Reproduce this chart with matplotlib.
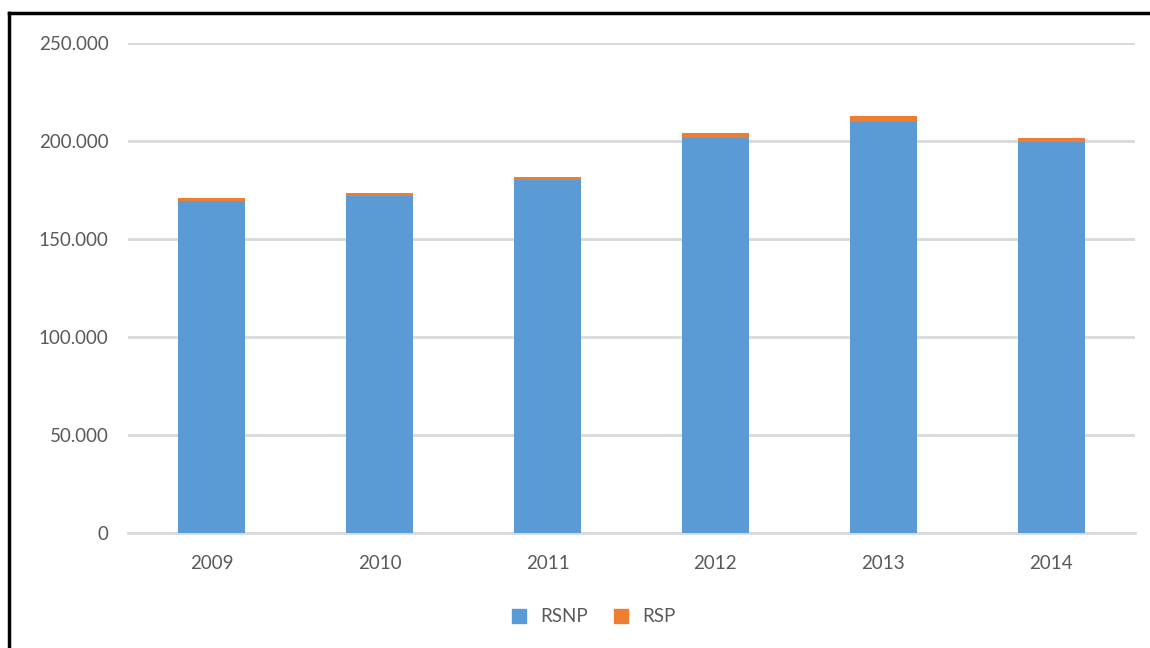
#!/usr/bin/env python3
import matplotlib
matplotlib.use("Agg")
import matplotlib.pyplot as plt
from matplotlib.lines import Line2D
from matplotlib.ticker import FuncFormatter

years = ["2009", "2010", "2011", "2012", "2013", "2014"]
rsnp = [169200, 171900, 180100, 201300, 209500, 199300]
rsp = [1500, 1400, 1300, 2600, 3100, 2000]

BLUE = "#5b9bd5"
ORANGE = "#ed7d31"
GRID = "#d9d9d9"
TEXT = "#595959"

plt.rcParams['font.family'] = ['Lato', 'DejaVu Sans']

fig = plt.figure(figsize=(11.5, 6.48), dpi=100)
ax = fig.add_axes([128/1150, 1 - 533/648, (1135 - 128)/1150, (533 - 43)/648])

x = range(len(years))
ax.bar(x, rsnp, width=0.4, color=BLUE, label="RSNP", zorder=3)
ax.bar(x, rsp, width=0.4, bottom=rsnp, color=ORANGE, label="RSP", zorder=3)

ax.set_xlim(-0.5, 5.5)
ax.set_ylim(0, 250000)
ax.set_yticks([0, 50000, 100000, 150000, 200000, 250000])
ax.yaxis.set_major_formatter(FuncFormatter(lambda v, p: "0" if v == 0 else f"{int(v):,}".replace(",", ".")))
ax.set_xticks(list(x))
ax.set_xticklabels(years)
ax.grid(axis="y", color=GRID, linewidth=2, zorder=0)
ax.tick_params(axis="both", length=0, labelsize=13.5, colors=TEXT)
ax.tick_params(axis="y", pad=14)
ax.tick_params(axis="x", pad=16)
for s in ["top", "right", "left"]:
    ax.spines[s].set_visible(False)
ax.spines["bottom"].set_color(GRID)
ax.spines["bottom"].set_linewidth(2)

handles = [Line2D([], [], marker="s", linestyle="", markersize=10, color=BLUE),
           Line2D([], [], marker="s", linestyle="", markersize=10, color=ORANGE)]
fig.legend(handles, ["RSNP", "RSP"], loc="center", bbox_to_anchor=(588/1150, 1 - 617/648),
           ncol=2, frameon=False, fontsize=13.5, handletextpad=0.1, columnspacing=0.8,
           labelcolor=TEXT)

# black frame lines at top and left
fig.add_artist(Line2D([9/1150, 1], [1 - 13/648, 1 - 13/648], color="black", linewidth=2.5))
fig.add_artist(Line2D([9/1150, 9/1150], [0, 1 - 13/648], color="black", linewidth=2.5))

fig.savefig("out.png", dpi=100, facecolor="white")
